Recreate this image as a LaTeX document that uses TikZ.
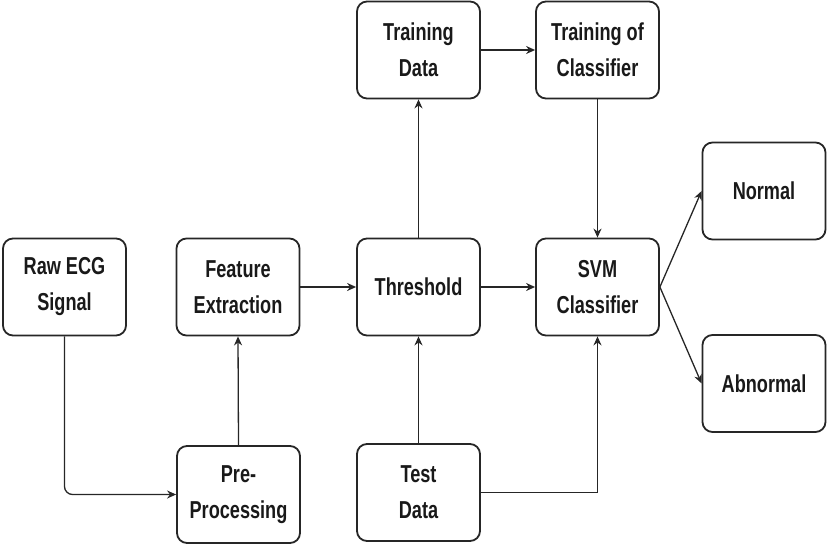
\documentclass[tikz,border=0pt]{standalone}
\usepackage{fontspec}
\newfontfamily\boxfont{Liberation Sans}[FakeStretch=0.74]
\usetikzlibrary{arrows.meta}
\begin{document}
\begin{tikzpicture}[x=1pt,y=-1pt,
  box/.style={draw=black!85, line width=1.8pt, rounded corners=10pt, minimum width=123pt, minimum height=97pt, align=center, inner sep=2pt, text=black!90,
    font=\boxfont\bfseries\fontsize{24.5}{36}\selectfont},
  conn/.style={draw=black!85, line width=1.3pt, -{Stealth[length=9pt,width=8pt]}}]
\useasboundingbox (0,0) rectangle (827,547);
\node[box] (raw) at (64.5,287) {Raw ECG\\Signal};
\node[box] (feat) at (238,287) {Feature\\Extraction};
\node[box] (thr) at (418.5,287) {Threshold};
\node[box] (svm) at (597.5,287) {SVM\\Classifier};
\node[box] (tdata) at (418.5,50) {Training\\Data};
\node[box] (toc) at (597.5,50) {Training of\\Classifier};
\node[box] (normal) at (764,191) {Normal};
\node[box] (abnormal) at (764,383.5) {Abnormal};
\node[box] (pre) at (238.5,494.5) {Pre-\\Processing};
\node[box] (test) at (418.5,492.5) {Test\\Data};
\draw[conn, rounded corners=8pt] (raw.south) -- (raw.south |- pre.west) -- (pre.west);
\draw[conn] (pre.north) -- (feat.south);
\draw[conn] (feat.east) -- (thr.west);
\draw[conn] (thr.north) -- (tdata.south);
\draw[conn] (tdata.east) -- (toc.west);
\draw[conn] (toc.south) -- (svm.north);
\draw[conn] (test.north) -- (thr.south);
\draw[conn] (thr.east) -- (svm.west);
\draw[conn] (test.east) -- (svm.south |- test.east) -- (svm.south);
\draw[conn] (svm.east) -- (normal.west);
\draw[conn] (svm.east) -- (abnormal.west);
\end{tikzpicture}
\end{document}
